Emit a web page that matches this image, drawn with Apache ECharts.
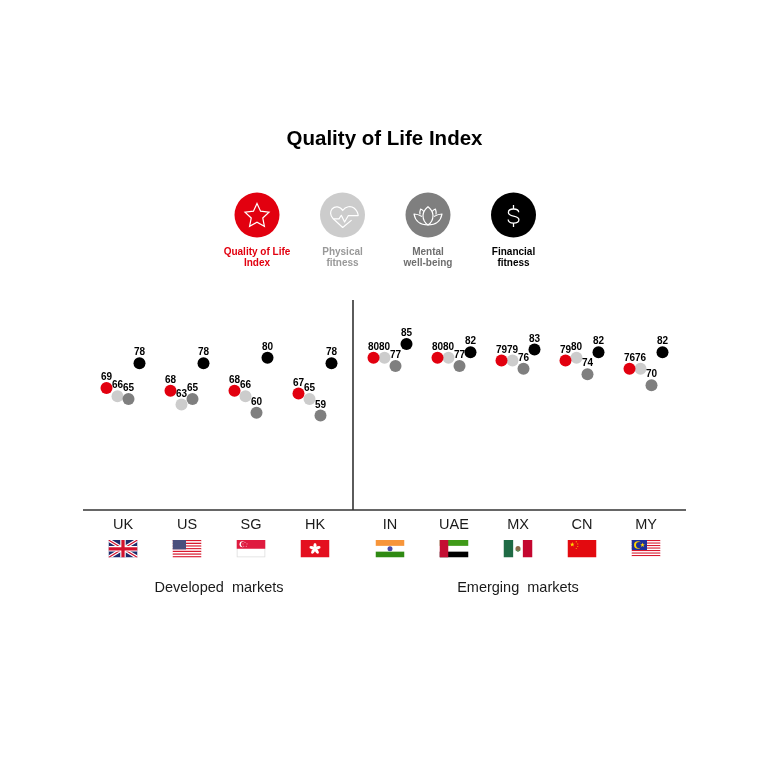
<!DOCTYPE html>
<html><head><meta charset="utf-8">
<style>html,body{margin:0;padding:0;background:#fff}#c{width:767px;height:763px}</style>
<script src="https://cdn.jsdelivr.net/npm/echarts@6/dist/echarts.min.js"></script>
</head><body><div id="c"></div>
<script>
// ---------- data ----------
const developedMarkets = ['UK','US','SG','HK'];
const emergingMarkets  = ['IN','UAE','MX','CN','MY'];
const qualityDeveloped   = [69,68,68,67];
const physicalDeveloped  = [66,63,66,65];
const mentalDeveloped    = [65,65,60,59];
const financialDeveloped = [78,78,80,78];
const qualityEmerging    = [80,80,79,79,76];
const physicalEmerging   = [80,80,79,80,76];
const mentalEmerging     = [77,77,76,74,70];
const financialEmerging  = [85,82,83,82,82];
const seriesNames = ['Quality of Life Index','Physical fitness','Mental well-being','Financial fitness'];
const legendLabels = ['Quality of Life\nIndex','Physical\nfitness','Mental\nwell-being','Financial\nfitness'];
// ---------- style ----------
const RED='#e2000f', LIGHT='#cccccc', MID='#7f7f7f', BLACK='#000000', AXIS='#333333';
const FONT='"Liberation Sans", Arial, sans-serif';
const svg=(w,h,body)=>'data:image/svg+xml;charset=utf-8,'+encodeURIComponent(`<svg xmlns="http://www.w3.org/2000/svg" width="${w}" height="${h}" viewBox="0 0 ${w} ${h}">${body}</svg>`);
const stripes=(n,a,b,W,H)=>{let s='';for(let i=0;i<n;i++)s+=`<rect x="0" y="${i*H/n}" width="${W}" height="${H/n+.05}" fill="${i%2?b:a}"/>`;return s;};
const starPts=(cx,cy,r,k)=>{let p=[];for(let i=0;i<10;i++){const R=i%2?r*k:r,a=-Math.PI/2+i*Math.PI/5;p.push((cx+R*Math.cos(a)).toFixed(2)+','+(cy+R*Math.sin(a)).toFixed(2));}return p.join(' ');};
const star=(cx,cy,r,fill)=>`<polygon points="${starPts(cx,cy,r,.42)}" fill="${fill}"/>`;
const W=58,H=35;
const flags={
UK:svg(W,H,`<rect width="58" height="35" fill="#1f2a6b"/><path d="M0 0L58 35M58 0L0 35" stroke="#fff" stroke-width="7"/><path d="M0 0L58 35M58 0L0 35" stroke="#d3112e" stroke-width="2.4"/><path d="M29 0V35M0 17.5H58" stroke="#fff" stroke-width="11"/><path d="M29 0V35M0 17.5H58" stroke="#d3112e" stroke-width="6.5"/>`),
US:svg(W,H,stripes(13,'#d9192f','#fff',W,H)+`<rect width="27" height="18.8" fill="#4a4f7d"/>`),
SG:svg(W,H,`<rect x="1" y="1" width="56" height="33" fill="#fff" stroke="#dcdcdc" stroke-width="2"/><rect width="58" height="17.5" fill="#df1b3f"/><circle cx="12" cy="8.7" r="6" fill="#fff"/><circle cx="14.6" cy="8.7" r="5.6" fill="#df1b3f"/>`+[[17,5],[21,8],[19.5,12.5],[14.5,12.5],[13,8]].map(p=>star(p[0],p[1],1.5,'#fff')).join('')),
HK:svg(W,H,`<rect width="58" height="35" fill="#e4101f"/>`+[0,72,144,216,288].map(a=>`<ellipse cx="29" cy="11.6" rx="3.2" ry="5.8" fill="#fff" transform="rotate(${a} 29 17.5)"/>`).join('')),
IN:svg(W,H,`<rect width="58" height="35" fill="#fff"/><rect width="58" height="11.7" fill="#f7953a"/><rect y="23.3" width="58" height="11.7" fill="#2f8a13"/><circle cx="29" cy="17.5" r="5" fill="#4a4aa8"/>`),
UAE:svg(W,H,`<rect width="58" height="35" fill="#fff"/><rect width="58" height="11.7" fill="#3f9a18"/><rect y="23.3" width="58" height="11.7" fill="#000"/><rect width="17.5" height="35" fill="#c40f33"/>`),
MX:svg(W,H,`<rect width="58" height="35" fill="#fff"/><rect width="19.3" height="35" fill="#1f6b45"/><rect x="38.7" width="19.3" height="35" fill="#c4062f"/><circle cx="29" cy="17" r="5" fill="#8c6a4a"/><path d="M24 20Q29 26 34 20" fill="none" stroke="#3f8a4a" stroke-width="1.8"/>`),
CN:svg(W,H,`<rect width="58" height="35" fill="#e30a0f"/>`+star(9.5,9,4.8,'#ffdc00')+star(17.5,3.8,1.7,'#ffdc00')+star(20.5,8,1.7,'#ffdc00')+star(20.5,13,1.7,'#ffdc00')+star(17.5,17,1.7,'#ffdc00')),
MY:svg(W,H,stripes(14,'#d9192f','#fff',W,H)+`<rect width="31" height="20" fill="#1f2f9a"/><circle cx="12.5" cy="10" r="7.4" fill="#ffd400"/><circle cx="15.2" cy="10" r="6.2" fill="#1f2f9a"/>`+star(22,10,5,'#ffd400'))
};
const icons=[
svg(45,45,`<polygon points="${starPts(22.5,23.6,12.6,.48)}" fill="none" stroke="#fff" stroke-width="1.2" stroke-linejoin="miter"/>`),
svg(45,45,`<g fill="none" stroke="#fff" stroke-width="1.2" stroke-linejoin="round"><path d="M31.6 27.6L22.7 35L13 26C10 23 10 19 12 16.5C15 13.4 20 13.6 22.7 18C25.5 13.6 31 13.2 34 15.5C36.8 17.8 38 20.5 38.3 23.2"/><path d="M13.4 26.4H19L21.3 22.8L24.6 29.5L28.2 23.2H38.3"/></g>`),
svg(45,45,`<g transform="translate(.5 0)" fill="none" stroke="#fff" stroke-width="1.2" stroke-linejoin="round"><path d="M22 14.2C25.5 17 27 20 27 23C27 27 25 30.5 22 32.5C19 30.5 17 27 17 23C17 20 18.5 17 22 14.2Z"/><path d="M17.8 19C17 18 16 17 14.6 16.5C14 18 13.7 20 14 22M26.2 19C27 18 28 17 29.4 16.5C30 18 30.3 20 30 22"/><path d="M16 24C13.5 22.5 11 21.5 8 21.5C9 27 13 32.5 22 32.5C31 32.5 35 27 36 21.5C33 21.5 30.5 22.5 28 24"/></g>`),
svg(45,45,`<g fill="none" stroke="#fff" stroke-width="1.3"><path d="M27.7 19.8C27.7 17.8 25.6 16.5 22.5 16.5C19.5 16.5 17.4 17.8 17.4 20C17.4 22.2 19.6 23 22.5 23.6C25.5 24.2 27.9 25 27.9 27.2C27.9 29.4 25.6 30.6 22.5 30.6C19.4 30.6 17.2 29.3 17.2 27.1"/><path d="M22.5 12.5V16.5M22.5 30.6V34.6"/></g>`)
];
const legendX=[257,342.5,428,513.5];
const legendColors=[RED,LIGHT,MID,BLACK];
const legendTextColors=[RED,'#999999','#6e6e6e',BLACK];
const dotOffsets=[-16.5,-5.5,5.5,16.5];
const colors=[RED,LIGHT,MID,BLACK];
const zs=[4,2,3,4];

const chart=echarts.init(document.getElementById('c'),null,{renderer:'canvas'});
const xAxis=(cats,idx,name)=>({type:'category',gridIndex:idx,data:cats,
  name:name,nameLocation:'middle',nameGap:70,nameTextStyle:{fontFamily:FONT,fontSize:14.5,color:'#1a1a1a'},
  axisLine:{show:false},axisTick:{show:false},
  axisLabel:{interval:0,margin:-1,fontFamily:FONT,color:'#1a1a1a',
    formatter:v=>`{n|${v}}\n{f${v}|}`,
    rich:Object.assign({n:{fontFamily:FONT,fontSize:14.5,color:'#1a1a1a',lineHeight:31,align:'center'}},
      Object.fromEntries(cats.map(c=>['f'+c,{width:29,height:17.5,align:'center',backgroundColor:{image:flags[c]}}])))}
});
const yAxis=idx=>({type:'value',gridIndex:idx,min:24.6,max:101,show:false,splitLine:{show:false}});
const mk=(name,vals,i,idx)=>({name,type:'scatter',xAxisIndex:idx,yAxisIndex:idx,data:vals,symbol:'circle',symbolSize:12,
  symbolOffset:[dotOffsets[i],0],itemStyle:{color:colors[i],opacity:1},z:zs[i],
  label:{show:true,position:'top',distance:0,offset:[0,0.5],fontFamily:FONT,fontSize:10,fontWeight:'bold',color:'#000'},
  emphasis:{disabled:true},silent:true,animation:false});
const setsD=[qualityDeveloped,physicalDeveloped,mentalDeveloped,financialDeveloped];
const setsE=[qualityEmerging,physicalEmerging,mentalEmerging,financialEmerging];
const graphic=[
 {type:'text',x:384.5,y:139,style:{text:'Quality of Life Index',fontFamily:FONT,fontSize:20.5,fontWeight:'bold',fill:'#000',align:'center',verticalAlign:'middle'}},
 {type:'line',shape:{x1:83,y1:510,x2:686,y2:510},style:{stroke:AXIS,lineWidth:1.6}},
 {type:'line',shape:{x1:353,y1:300,x2:353,y2:510},style:{stroke:AXIS,lineWidth:1.6}}
];
legendX.forEach((x,i)=>{
 graphic.push({type:'circle',shape:{cx:x,cy:215,r:22.5},style:{fill:legendColors[i]}});
 graphic.push({type:'image',style:{image:icons[i],x:x-22.5,y:192.5,width:45,height:45}});
 graphic.push({type:'text',x:x,y:258,style:{text:legendLabels[i],fontFamily:FONT,fontSize:10,lineHeight:11,fontWeight:'bold',fill:legendTextColors[i],align:'center',verticalAlign:'middle'}});
});
chart.setOption({animation:false,backgroundColor:'#fff',
 grid:[{left:91,width:256,top:300,height:210},{left:358,width:320,top:300,height:210}],
 xAxis:[xAxis(developedMarkets,0,'Developed  markets'),xAxis(emergingMarkets,1,'Emerging  markets')],
 yAxis:[yAxis(0),yAxis(1)],
 series:[...setsD.map((v,i)=>mk(seriesNames[i],v,i,0)),...setsE.map((v,i)=>mk(seriesNames[i],v,i,1))],
 graphic
});
</script></body></html>
